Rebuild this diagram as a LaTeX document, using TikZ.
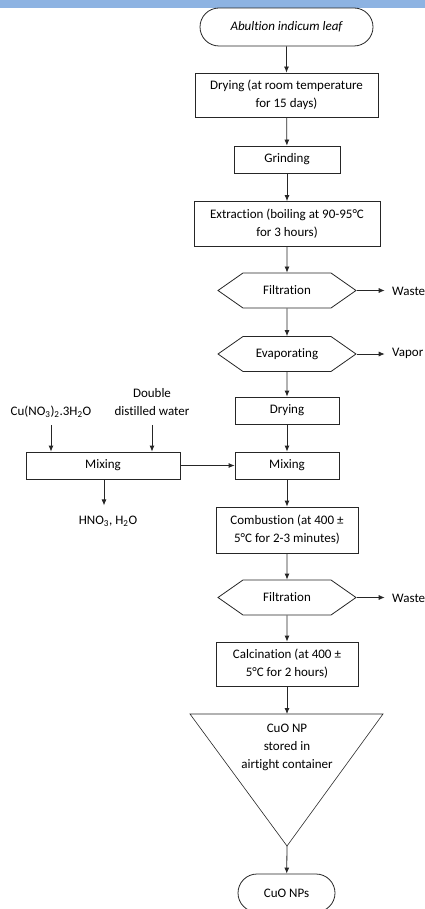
\documentclass[tikz,border=0pt]{standalone}
\usepackage{fontspec}
\setmainfont{Carlito}[Ligatures=NoCommon]
\usetikzlibrary{arrows.meta,shapes.misc,shapes.symbols}
\definecolor{barblue}{RGB}{141,179,226}
\tikzset{procbox/.style={draw=black!85,line width=0.8pt,align=center,inner sep=0pt,font=\fontsize{13}{18}\selectfont},
  hexbox/.style={procbox,shape=signal,signal to=east and west,signal pointer angle=70},
  termbox/.style={procbox,shape=rounded rectangle},
  flow/.style={line width=0.8pt,black!85,-{Latex[length=6pt,width=5pt]}},
  sidetext/.style={align=center,inner sep=0pt,font=\fontsize{13}{18}\selectfont}}

\begin{document}
\begin{tikzpicture}[x=1pt,y=-1pt]
  \useasboundingbox (0,0) rectangle (425,909);
  \fill[barblue] (0,0) rectangle (425,8);
  % main line
  \node[termbox,minimum width=173pt,minimum height=38pt] (leaf) at (286.5,27) {\itshape Abultion indicum leaf};
  \node[procbox,minimum width=183pt,minimum height=44pt] (dry1) at (286.5,95) {Drying (at room temperature\\for 15 days)};
  \node[procbox,minimum width=106pt,minimum height=27pt] (grind) at (287,159.5) {Grinding};
  \node[procbox,minimum width=186pt,minimum height=45pt] (extract) at (287,224) {Extraction (boiling at 90-95°C\\for 3 hours)};
  \node[hexbox,minimum width=138pt,minimum height=35pt] (filt1) at (287,290.5) {Filtration};
  \node[hexbox,minimum width=138pt,minimum height=35pt] (evap) at (287,354) {Evaporating};
  \node[procbox,minimum width=104pt,minimum height=27pt] (dry2) at (287,410.5) {Drying};
  \node[procbox,minimum width=104pt,minimum height=27pt] (mix2) at (287,465.5) {Mixing};
  \node[procbox,minimum width=142pt,minimum height=46pt] (comb) at (287,530) {Combustion (at 400 ±\\5°C for 2-3 minutes)};
  \node[hexbox,minimum width=138pt,minimum height=35pt] (filt2) at (287,597.5) {Filtration};
  \node[procbox,minimum width=142pt,minimum height=44pt] (calc) at (287,664) {Calcination (at 400 ±\\5°C for 2 hours)};
  \coordinate (tritop) at (287,714);
  \coordinate (triapex) at (287,846);
  \draw[line width=0.6pt,black!85] (190,714) -- (383,714) -- (triapex) -- cycle;
  \node[sidetext] (store) at (287,747) {CuO NP\\stored in\\airtight container};
  \node[termbox,minimum width=97pt,minimum height=38pt] (nps) at (286.5,893) {CuO NPs};
  % side branch
  \node[procbox,minimum width=154pt,minimum height=27pt] (mix1) at (103,465.5) {Mixing};
  \node[sidetext,anchor=south] (cuno) at (51,418) {Cu(NO\textsubscript{3})\textsubscript{2}.3H\textsubscript{2}O};
  \node[sidetext] (water) at (152,402) {Double\\distilled water};
  \node[sidetext] (hno) at (108,521) {HNO\textsubscript{3}, H\textsubscript{2}O};
  \node[sidetext,anchor=west] (waste1) at (392,291) {Waste};
  \node[sidetext,anchor=west] (vapor) at (392,353) {Vapor};
  \node[sidetext,anchor=west] (waste2) at (392,598) {Waste};
  % arrows
  \draw[flow] (leaf) -- (dry1);
  \draw[flow] (dry1) -- (grind);
  \draw[flow] (grind) -- (extract);
  \draw[flow] (extract) -- (filt1);
  \draw[flow] (filt1) -- (evap);
  \draw[flow] (evap) -- (dry2);
  \draw[flow] (dry2) -- (mix2);
  \draw[flow] (mix2) -- (comb);
  \draw[flow] (comb) -- (filt2);
  \draw[flow] (filt2) -- (calc);
  \draw[flow] (calc) -- (tritop);
  \draw[flow] (triapex) -- (nps);
  \draw[flow] (filt1.east) -- ++(28,0);
  \draw[flow] (evap.east) -- ++(28,0);
  \draw[flow] (filt2.east) -- ++(28,0);
  \draw[flow] (cuno.south) ++(0,7) -- (cuno.south |- mix1.north);
  \draw[flow] (water.south) ++(0,9) -- (water.south |- mix1.north);
  \draw[flow] (mix1) -- (mix2);
  \draw[flow] (mix1.south -| hno.north) ++(-4,0) -- ++(0,26);
\end{tikzpicture}
\end{document}
